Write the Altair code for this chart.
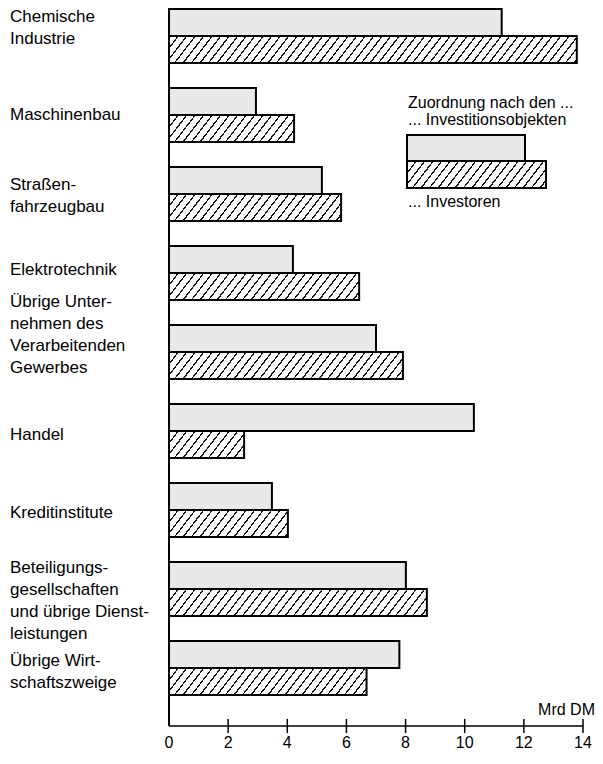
import altair as alt
import pandas as pd

# ---------------- data ----------------
categories = [
    "Chemische Industrie",
    "Maschinenbau",
    "Straßenfahrzeugbau",
    "Elektrotechnik",
    "Übrige Unternehmen des Verarbeitenden Gewerbes",
    "Handel",
    "Kreditinstitute",
    "Beteiligungsgesellschaften und übrige Dienstleistungen",
    "Übrige Wirtschaftszweige",
]
category_labels = [
    "Chemische\nIndustrie",
    "Maschinenbau",
    "Straßen-\nfahrzeugbau",
    "Elektrotechnik",
    "Übrige Unter-\nnehmen des\nVerarbeitenden\nGewerbes",
    "Handel",
    "Kreditinstitute",
    "Beteiligungs-\ngesellschaften\nund übrige Dienst-\nleistungen",
    "Übrige Wirt-\nschaftszweige",
]
series = ["... Investitionsobjekten", "... Investoren"]
objekte = [11.25, 2.94, 5.17, 4.19, 7.0, 10.31, 3.48, 8.01, 7.79]
investoren = [13.79, 4.23, 5.82, 6.43, 7.91, 2.54, 4.02, 8.72, 6.68]
x_ticks = [0, 2, 4, 6, 8, 10, 12, 14]
unit_label = "Mrd DM"
legend_title = "Zuordnung nach den ..."

# ---------------- layout / style ----------------
W, H = 414, 718
XMAX = 14
FONT = "Liberation Sans"
BAR_H = 27
STIPPLE = "#e9e9e9"
# vertical nudge of each category label's first line (px, relative to group centre)
LABEL_DY = [-19, 0, -9, -3, -50, 4, 3, -21, -7]

df = pd.DataFrame({
    "cat": categories * 2,
    "series": [series[0]] * len(categories) + [series[1]] * len(categories),
    "value": objekte + investoren,
})
df_lab = pd.DataFrame({"cat": categories, "label": category_labels})
df_ticks = pd.DataFrame({"t": x_ticks})
axis_df = pd.DataFrame({"a": [0], "b": [XMAX]})
one = pd.DataFrame({"k": [0]})

xscale = alt.Scale(domain=[0, XMAX], nice=False, zero=True)
yscale = alt.Scale(domain=categories, paddingInner=25 / 79, paddingOuter=0.2025, align=1 / 32)
offscale = alt.Scale(domain=series, paddingInner=0, paddingOuter=0)


def hatch(w, h, period=8.5, lw=1.6, tan=1.3, dark="#111111", light="#ffffff"):
    """Diagonal hatch built from a linear gradient with hard stops."""
    denom = w * tan + h
    r = h / (w * tan)
    s = (1 + r) / (1 + r * r)
    pt = period * tan / denom
    lt = lw * tan / denom
    stops = []
    k = 0
    while k * pt < 1:
        a = k * pt
        b = min(a + lt, 1.0)
        c = min((k + 1) * pt, 1.0)
        stops += [(a, dark), (b, dark), (b, light), (c, light)]
        k += 1
    return {
        "gradient": "linear",
        "x1": 0, "y1": 0, "x2": round(s, 6), "y2": round(s * r, 6),
        "stops": [{"offset": round(o, 6), "color": col} for o, col in stops],
    }


def bars(data, fill):
    return alt.Chart(data).mark_bar(fill=fill, stroke="black", strokeWidth=2).encode(
        y=alt.Y("cat:N", scale=yscale, sort=categories, axis=None),
        yOffset=alt.YOffset("series:N", scale=offscale, sort=series),
        x=alt.X("value:Q", scale=xscale, axis=None),
    )


layers = []
# stippled bars
layers.append(bars(df[df.series == series[0]], STIPPLE))
# hatched bars (one gradient per bar so the hatch spacing stays constant)
for c, v in zip(categories, investoren):
    w = v / XMAX * W
    sub = df[(df.series == series[1]) & (df.cat == c)]
    layers.append(bars(sub, hatch(w, BAR_H)))

# axes drawn through the x scale
layers.append(alt.Chart(axis_df).mark_rule(color="black", strokeWidth=2).encode(
    x=alt.X("a:Q", scale=xscale, axis=None), y=alt.value(0), y2=alt.value(H)))
layers.append(alt.Chart(axis_df).mark_rule(color="black", strokeWidth=1.5).encode(
    x=alt.X("a:Q", scale=xscale, axis=None), x2="b:Q", y=alt.value(H)))
layers.append(alt.Chart(df_ticks).transform_filter("datum.t > 0").mark_rule(
    color="black", strokeWidth=1.5).encode(
    x=alt.X("t:Q", scale=xscale, axis=None), y=alt.value(H - 7), y2=alt.value(H + 7)))
layers.append(alt.Chart(df_ticks).mark_text(
    align="center", baseline="middle", font=FONT, fontSize=16, color="black").encode(
    x=alt.X("t:Q", scale=xscale, axis=None), y=alt.value(H + 17), text="t:Q"))

# category labels
for c, dy in zip(categories, LABEL_DY):
    layers.append(alt.Chart(df_lab[df_lab.cat == c]).mark_text(
        align="left", baseline="middle", lineBreak="\n", lineHeight=22, dy=dy,
        font=FONT, fontSize=17, color="black").encode(
        y=alt.Y("cat:N", scale=yscale, sort=categories, axis=None),
        x=alt.value(-159), text="label:N"))

# unit label
layers.append(alt.Chart(one).mark_text(
    align="right", baseline="middle", font=FONT, fontSize=16, color="black",
    text=unit_label).encode(x=alt.value(W + 12), y=alt.value(702)))

# legend
LX = 238
layers.append(alt.Chart(one).mark_text(
    align="left", baseline="middle", font=FONT, fontSize=16, color="black",
    text=legend_title).encode(x=alt.value(LX + 1), y=alt.value(95)))
layers.append(alt.Chart(one).mark_text(
    align="left", baseline="middle", font=FONT, fontSize=16, color="black",
    text=series[0]).encode(x=alt.value(LX + 1), y=alt.value(112)))
layers.append(alt.Chart(one).mark_rect(
    fill=STIPPLE, stroke="black", strokeWidth=2).encode(
    x=alt.value(LX), x2=alt.value(LX + 118), y=alt.value(127), y2=alt.value(153)))
layers.append(alt.Chart(one).mark_rect(
    fill=hatch(139, BAR_H), stroke="black", strokeWidth=2).encode(
    x=alt.value(LX), x2=alt.value(LX + 139), y=alt.value(153), y2=alt.value(180)))
layers.append(alt.Chart(one).mark_text(
    align="left", baseline="middle", font=FONT, fontSize=16, color="black",
    text=series[1]).encode(x=alt.value(LX + 1), y=alt.value(194)))

chart = alt.layer(*layers).properties(
    width=W, height=H,
    autosize=alt.AutoSizeParams(type="none"),
    padding={"left": 161, "top": 0, "right": 12, "bottom": 26},
).configure_view(stroke=None)

chart.save("out.html", embed_options={"renderer": "svg", "actions": False})
